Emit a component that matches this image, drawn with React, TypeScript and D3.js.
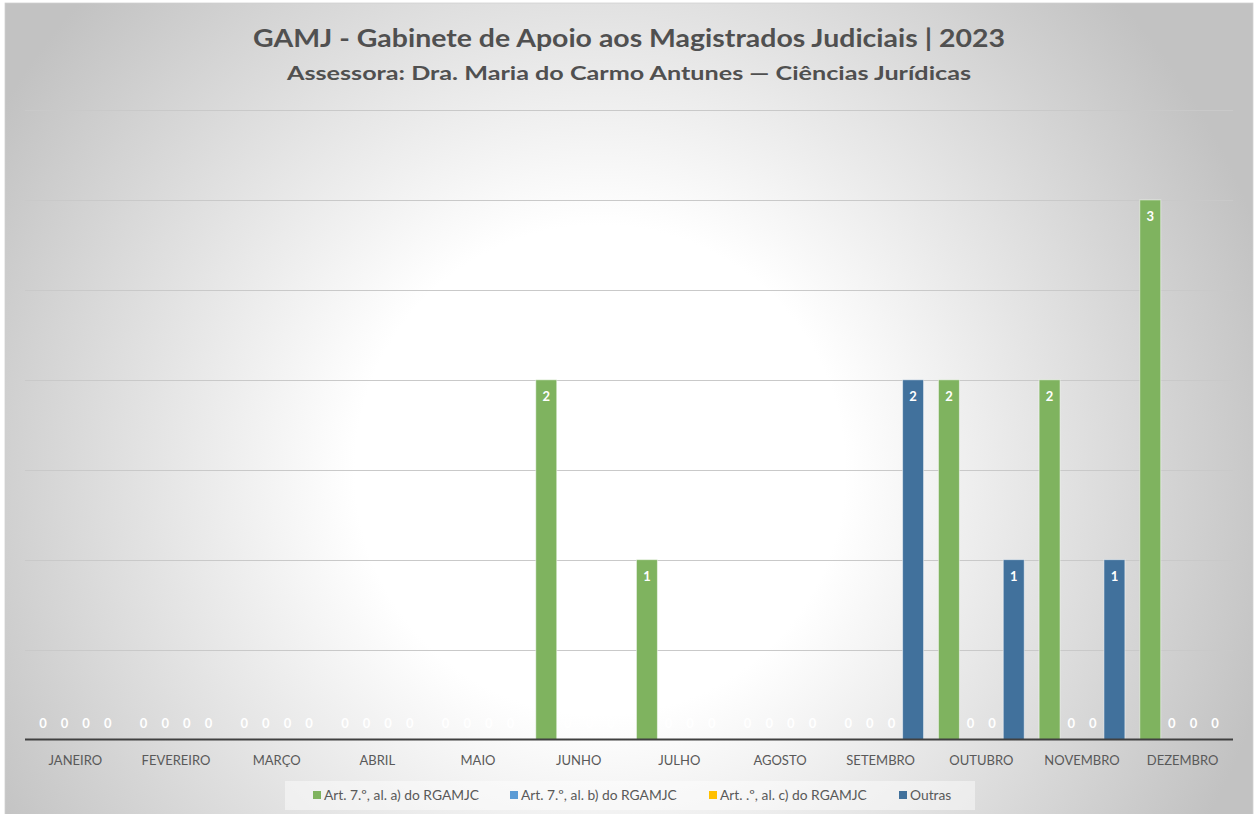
import React from 'react';
import * as d3 from 'd3';

const months = ['JANEIRO', 'FEVEREIRO', 'MARÇO', 'ABRIL', 'MAIO', 'JUNHO', 'JULHO', 'AGOSTO', 'SETEMBRO', 'OUTUBRO', 'NOVEMBRO', 'DEZEMBRO'];
const seriesNames = ['Art. 7.º, al. a) do RGAMJC', 'Art. 7.º, al. b) do RGAMJC', 'Art. .º, al. c) do RGAMJC', 'Outras'];
const artA = [0, 0, 0, 0, 0, 2, 1, 0, 0, 2, 2, 3];
const artB = [0, 0, 0, 0, 0, 0, 0, 0, 0, 0, 0, 0];
const artC = [0, 0, 0, 0, 0, 0, 0, 0, 0, 0, 0, 0];
const outras = [0, 0, 0, 0, 0, 0, 0, 0, 2, 1, 1, 0];
const gridTicks = [0.5, 1, 1.5, 2, 2.5, 3, 3.5];
const colors = ['#7fb35f', '#5b9bd5', '#ffc000', '#41719c'];

const W = 1259;
const H = 814;
const margin = { top: 110, right: 26, bottom: 74, left: 25 };

export default function App() {
  const values = [artA, artB, artC, outras];

  const x = d3.scaleBand<string>()
    .domain(months)
    .range([margin.left, W - margin.right])
    .paddingInner(0.135)
    .paddingOuter(0.0675);

  const xs = d3.scaleBand<number>()
    .domain([0, 1, 2, 3])
    .range([0, x.bandwidth()])
    .padding(0.03);

  const y = d3.scaleLinear()
    .domain([0, 3.5])
    .range([H - margin.bottom - 0.5, margin.top]);

  const legendX = [313, 510, 709, 899];

  return (
    <svg width={W} height={H} style={{ position: 'absolute', left: 0, top: 0 }} fontFamily="Lato, 'Open Sans', sans-serif">
      <defs>
        <radialGradient id="bg" gradientUnits="userSpaceOnUse" cx={600} cy={470} r={700}>
          <stop offset="0" stopColor="#ffffff" />
          <stop offset="0.35" stopColor="#ffffff" />
          <stop offset="1" stopColor="#c2c2c2" />
        </radialGradient>
      </defs>
      <rect x={0} y={0} width={W} height={H} fill="#ffffff" />
      <rect x={5} y={3} width={1248} height={H} fill="url(#bg)" stroke="#d0d0d0" strokeWidth={0.75} />

      <text x={629} y={47} textAnchor="middle" fontSize={25} fontWeight="bold" fill="#505050" textLength={752} lengthAdjust="spacingAndGlyphs">
        GAMJ - Gabinete de Apoio aos Magistrados Judiciais | 2023
      </text>
      <text x={629} y={80} textAnchor="middle" fontSize={19} fontWeight="bold" fill="#505050" textLength={684} lengthAdjust="spacingAndGlyphs">
        Assessora: Dra. Maria do Carmo Antunes — Ciências Jurídicas
      </text>

      {gridTicks.map((t) => (
        <line key={t} x1={margin.left} x2={W - margin.right} y1={Math.round(y(t)) + 0.5} y2={Math.round(y(t)) + 0.5} stroke="#c9c9c9" strokeWidth={1} />
      ))}

      {months.map((m, i) => (
        <g key={m} transform={`translate(${x(m)},0)`}>
          {values.map((vals, s) => {
            const v = vals[i];
            const bx = xs(s) as number;
            const bw = xs.bandwidth();
            return (
              <g key={s}>
                {v > 0 && (
                  <rect x={bx} y={y(v)} width={bw} height={y(0) - y(v)} fill={colors[s]} stroke="#ffffff" strokeOpacity={0.5} strokeWidth={1} />
                )}
                <text
                  x={bx + bw / 2}
                  y={v > 0 ? y(v) + 21 : y(0) - 12}
                  textAnchor="middle"
                  fontSize={13}
                  fontWeight="bold"
                  fill="#ffffff"
                >
                  {v}
                </text>
              </g>
            );
          })}
          <text x={x.bandwidth() / 2} y={765} textAnchor="middle" fontSize={13} fill="#595959">{m}</text>
        </g>
      ))}

      <line x1={margin.left} x2={W - margin.right} y1={y(0)} y2={y(0)} stroke="#404040" strokeWidth={2} />

      <rect x={285} y={781} width={690} height={29} fill="#ffffff" fillOpacity={0.45} />
      {seriesNames.map((n, s) => (
        <g key={n}>
          <rect x={legendX[s]} y={791} width={8} height={8} fill={colors[s]} />
          <text x={legendX[s] + 11} y={799.5} fontSize={13.8} fill="#595959">{n}</text>
        </g>
      ))}
    </svg>
  );
}
